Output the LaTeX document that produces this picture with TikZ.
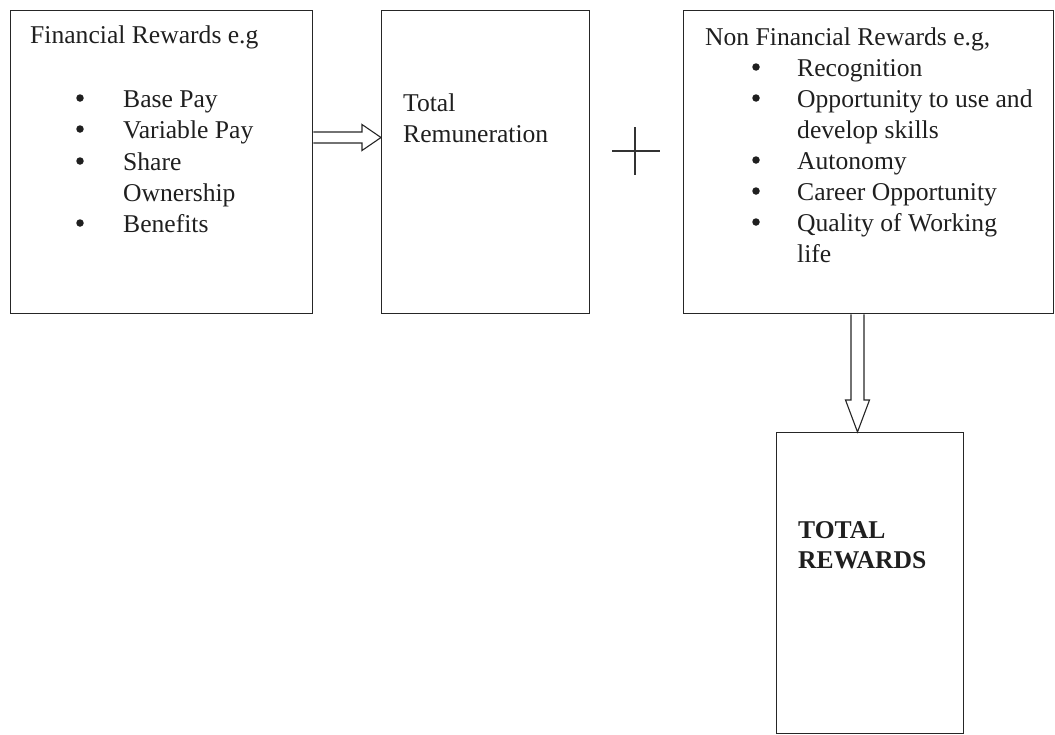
\documentclass[tikz,border=0pt]{standalone}
\usepackage{fontspec}
\setmainfont{Liberation Serif}
\usetikzlibrary{calc}
\begin{document}
\begin{tikzpicture}[x=1pt,y=1pt,
  box/.style={draw=black!85, line width=1.3pt, rectangle, inner sep=0pt, anchor=north west},
  txt/.style={anchor=base west, inner sep=0pt, text=black!88, font=\fontsize{25.6}{31}\selectfont},
  bul/.style={circle, fill=black!88, inner sep=0pt, minimum size=7.5pt},
  hollow/.style={draw=black!85, line width=1.1pt, line join=miter},
  plusline/.style={draw=black!80, line width=1.1pt}]
\useasboundingbox (0,0) rectangle (1055,-734);
% boxes
\node[box, minimum width=302pt, minimum height=303pt] (b1) at (10,-10) {};
\node[box, minimum width=208pt, minimum height=303pt] (b2) at (381,-10) {};
\node[box, minimum width=370pt, minimum height=303pt] (b3) at (683,-10) {};
\node[box, minimum width=187pt, minimum height=301pt] (b4) at (776,-432) {};
% box 1 text
\node[txt] (t1) at (30,-43) {Financial Rewards e.g};
\node[bul] (b1d1) at (80,-98) {};
\node[txt] (t1a) at (123,-107) {Base Pay};
\node[bul] (b1d2) at (80,-129) {};
\node[txt] (t1b) at (123,-138) {Variable Pay};
\node[bul] (b1d3) at (80,-161) {};
\node[txt] (t1c) at (123,-170) {Share};
\node[txt] (t1d) at (123,-201) {Ownership};
\node[bul] (b1d4) at (80,-223) {};
\node[txt] (t1e) at (123,-232) {Benefits};
% box 2 text
\node[txt] (t2a) at (403,-111) {Total};
\node[txt] (t2b) at (403,-142) {Remuneration};
% box 3 text
\node[txt] (t3) at (705,-45) {Non Financial Rewards e.g,};
\node[bul] (b3d1) at (756,-67) {};
\node[txt] (t3a) at (797,-76) {Recognition};
\node[bul] (b3d2) at (756,-98) {};
\node[txt] (t3b) at (797,-107) {Opportunity to use and};
\node[txt] (t3c) at (797,-138) {develop skills};
\node[bul] (b3d3) at (756,-160) {};
\node[txt] (t3d) at (797,-169) {Autonomy};
\node[bul] (b3d4) at (756,-191) {};
\node[txt] (t3e) at (797,-200) {Career Opportunity};
\node[bul] (b3d5) at (756,-222) {};
\node[txt] (t3f) at (797,-231) {Quality of Working};
\node[txt] (t3g) at (797,-262) {life};
% box 4 text
\node[txt, font=\fontsize{25.6}{31}\selectfont\bfseries] (t4a) at (798,-538) {TOTAL};
\node[txt, font=\fontsize{25.6}{31}\selectfont\bfseries] (t4b) at (798,-568) {REWARDS};
% horizontal hollow arrow b1 -> b2
\coordinate (ya) at (0,-137.5);
\coordinate (s1) at (b1.east |- ya);
\coordinate (e1) at (b2.west |- ya);
\draw[hollow] ($(s1)+(0,5.5)$) -- ($(e1)+(-19,5.5)$) -- ($(e1)+(-19,13)$) -- (e1)
  -- ($(e1)+(-19,-13)$) -- ($(e1)+(-19,-5.5)$) -- ($(s1)+(0,-5.5)$);
% vertical hollow arrow b3 -> b4
\coordinate (xa) at (857.5,0);
\coordinate (s2) at (b3.south -| xa);
\coordinate (e2) at (b4.north -| xa);
\draw[hollow] ($(s2)+(-6.5,0)$) -- ($(e2)+(-6.5,32)$) -- ($(e2)+(-12,32)$) -- (e2)
  -- ($(e2)+(12,32)$) -- ($(e2)+(6.5,32)$) -- ($(s2)+(6.5,0)$);
% plus sign
\coordinate (pc) at (635,-151);
\draw[plusline] ($(pc)+(-23,0)$) -- ($(pc)+(25,0)$);
\draw[plusline] ($(pc)+(0,24)$) -- ($(pc)+(0,-24)$);
\end{tikzpicture}
\end{document}
